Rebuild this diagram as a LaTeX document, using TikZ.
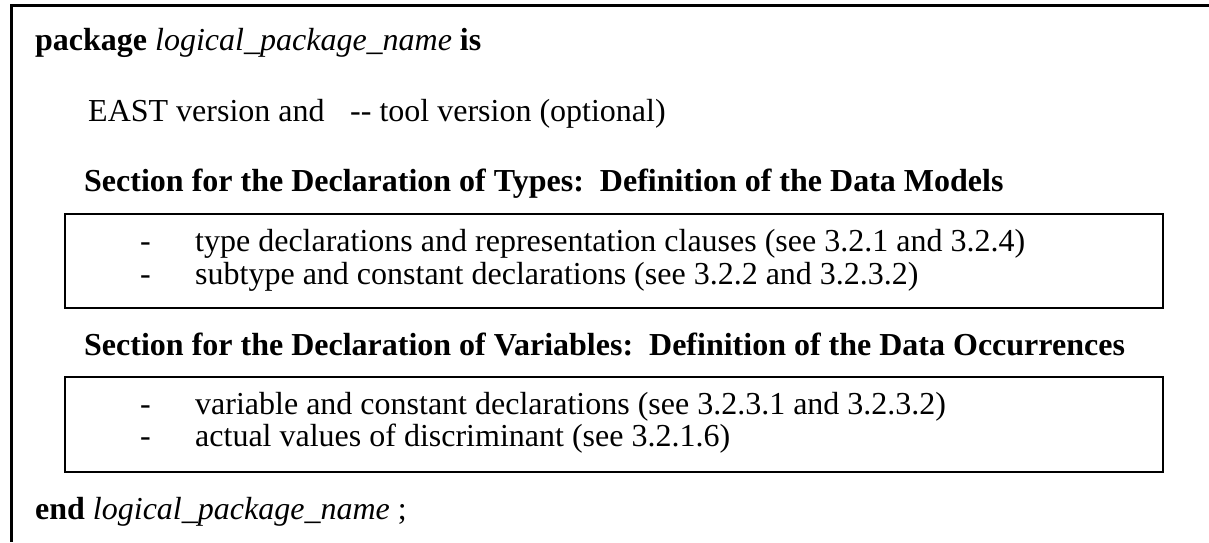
\documentclass[tikz,border=0pt]{standalone}
\usepackage{fontspec}
\setmainfont{Liberation Serif}
\begin{document}
\begin{tikzpicture}[x=1pt,y=-1pt,
  txt/.style={anchor=base west,inner sep=0pt,font=\fontsize{32}{36}\selectfont},
  frame/.style={line width=3pt},
  itembox/.style={line width=2.5pt}]
\useasboundingbox (0,0) rectangle (1209,542);
\coordinate (tr) at (1209,5);
\coordinate (tl) at (11,5);
\coordinate (bl) at (11,542);
\draw[frame] (tr) -- (tl) -- (bl);
\node[txt] (head) at (35,50) {\textbf{package} \textit{logical\_package\_name} \textbf{is}};
\node[txt] (east) at (88,121) {EAST version and\hspace{0.8em}{-}{-} tool version (optional)};
\node[txt] (sec1) at (84,191) {\textbf{Section for the Declaration of Types:\hspace{0.5em}Definition of the Data Models}};
\draw[itembox] (65,214) rectangle (1163,308);
\node[txt] (d1) at (140,251) {-};
\node[txt] (i1) at (195,251) {type declarations and representation clauses (see 3.2.1 and 3.2.4)};
\node[txt] (d2) at (140,284) {-};
\node[txt] (i2) at (195,284) {subtype and constant declarations (see 3.2.2 and 3.2.3.2)};
\node[txt] (sec2) at (84,355) {\textbf{Section for the Declaration of Variables:\hspace{0.5em}Definition of the Data Occurrences}};
\draw[itembox] (65,377) rectangle (1163,472);
\node[txt] (d3) at (140,414) {-};
\node[txt] (i3) at (195,414) {variable and constant declarations (see 3.2.3.1 and 3.2.3.2)};
\node[txt] (d4) at (140,446) {-};
\node[txt] (i4) at (195,446) {actual values of discriminant (see 3.2.1.6)};
\node[txt] (endl) at (35,519) {\textbf{end} \textit{logical\_package\_name} ;};
\end{tikzpicture}
\end{document}
